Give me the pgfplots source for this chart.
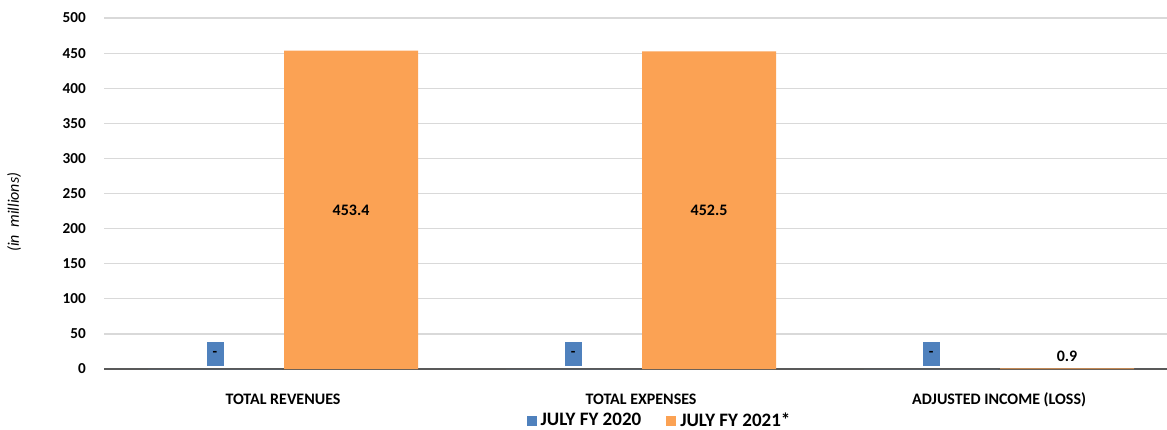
\documentclass[border=0pt]{standalone}
\usepackage{fontspec}
\setmainfont{Carlito}
\usepackage{pgfplots}
\pgfplotsset{compat=1.18}
\definecolor{bblue}{HTML}{4F81BD}
\definecolor{borange}{HTML}{FBA254}
\definecolor{gridc}{HTML}{D9D9D9}
\definecolor{axc}{HTML}{595959}
\begin{document}
\begin{tikzpicture}
\begin{axis}[
  at={(52pt,30pt)}, anchor=south west,
  scale only axis, width=531.5pt, height=175.5pt,
  xmin=-0.5, xmax=2.469, ymin=0, ymax=500,
  ytick={0,50,...,500},
  xtick={0,1,2},
  xticklabels={TOTAL REVENUES, TOTAL EXPENSES, ADJUSTED INCOME (LOSS)},
  axis x line*=bottom, axis y line*=left,
  y axis line style={draw=none},
  x axis line style={draw=axc, line width=0.9pt},
  major tick length=0pt,
  ymajorgrids, grid style={draw=gridc, line width=0.6pt},
  /pgf/number format/assume math mode=true,
  yticklabel style={font=\bfseries\fontsize{7.6}{9}\selectfont, anchor=east, xshift=-5.6pt},
  xticklabel style={font=\bfseries\fontsize{8}{9}\selectfont, anchor=base, yshift=-17.5pt},
  ylabel={(in\ \ millions)},
  ylabel style={font=\itshape\fontsize{8}{9}\selectfont, at={(axis description cs:-0.0845,0.447)}, anchor=center, rotate=0},
  ybar=1pt, bar width=67pt,
  legend style={draw=none, fill=none, at={(axis description cs:0.5235,-0.148)}, anchor=center,
    legend columns=-1, font=\bfseries\fontsize{9.5}{11}\selectfont,
    /tikz/every odd column/.append style={column sep=0pt},
    /tikz/every even column/.append style={column sep=10.5pt},
    inner sep=0pt},
  legend image code/.code={\fill[#1] (0pt,-2.5pt) rectangle (5pt,2.5pt);},
]
\addplot[fill=bblue, draw=none, nodes near coords, point meta=explicit symbolic,
  every node near coord/.append style={anchor=center, yshift=7.5pt, fill=bblue,
    minimum width=8.5pt, minimum height=12pt, inner sep=0pt,
    font=\bfseries\fontsize{7.5}{8}\selectfont, text=black}]
  table[meta=lab] {
x y lab
0 0 -
1 0 -
2 0 -
};
\addlegendentry{JULY FY 2020}
\addplot[fill=borange, draw=none,
  visualization depends on={\thisrow{y} \as \rawy},
  nodes near coords={\pgfmathprintnumber[fixed,fixed zerofill,precision=1]{\pgfplotspointmeta}},
  every node near coord/.append style={anchor=center, text=black,
    font=\bfseries\fontsize{8}{9}\selectfont,
    yshift={(max(0.1755*\rawy,6.5)-0.351*\rawy)}}]
  table {
x y
0 453.4
1 452.5
2 0.9
};
\addlegendentry{JULY FY 2021*}
\end{axis}
\pgfresetboundingbox
\useasboundingbox (0,0) rectangle (583.5pt,214.5pt);
\end{tikzpicture}
\end{document}
